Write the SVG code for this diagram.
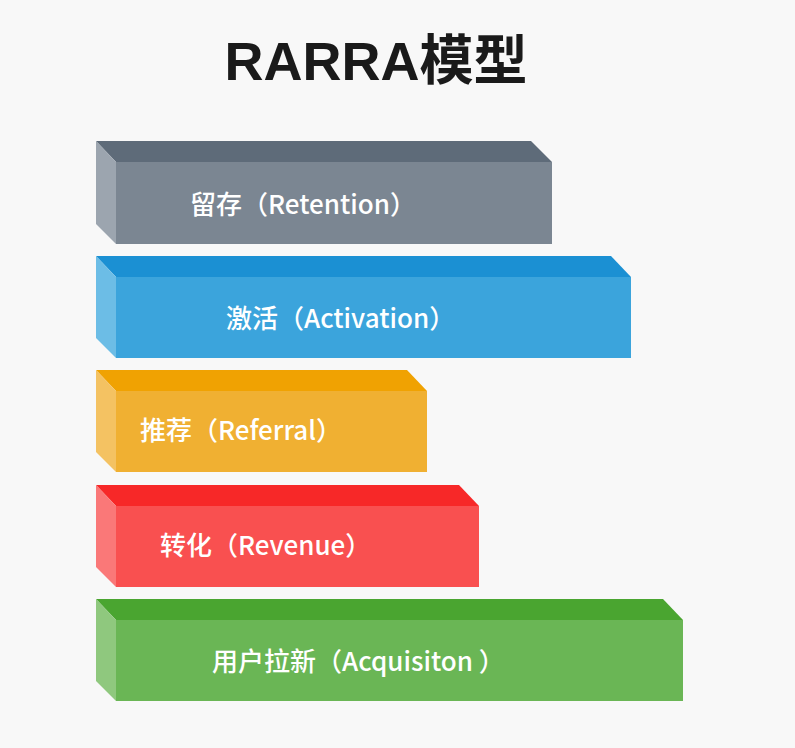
<svg xmlns="http://www.w3.org/2000/svg" width="795" height="748" viewBox="0 0 795 748">
<style>
.t{font-family:"Noto Sans CJK SC","Liberation Sans",sans-serif;font-size:26px;fill:#fff;font-weight:500}
.h{font-family:"Liberation Sans","Noto Sans CJK SC",sans-serif;font-size:54px;font-weight:bold;fill:#1a1a1a}
</style>
<rect width="795" height="748" fill="#f8f8f8"/>
<text class="h" x="376" y="80" text-anchor="middle">RARRA模型</text>
<g id="retention">
<polygon points="96,141 531,141 552,162 116,162" fill="#5e6b79"/>
<polygon points="96,141 116,162 116,244 96,224" fill="#9ca5af"/>
<rect x="116" y="162" width="436" height="82" fill="#7b8692"/>
<text class="t" x="190" y="214">留存（Retention）</text>
</g>
<g id="activation">
<polygon points="96,256 611,256 631,277 116,277" fill="#1b90d3"/>
<polygon points="96,256 116,277 116,358 96,338" fill="#6cbde6"/>
<rect x="116" y="277" width="515" height="81" fill="#3ba4dc"/>
<text class="t" x="226" y="328">激活（Activation）</text>
</g>
<g id="referral">
<polygon points="96,370 407,370 427,391 116,391" fill="#f0a202"/>
<polygon points="96,370 116,391 116,472 96,452" fill="#f4c262"/>
<rect x="116" y="391" width="311" height="81" fill="#f0b032"/>
<text class="t" x="140" y="440">推荐（Referral）</text>
</g>
<g id="revenue">
<polygon points="96,485 459,485 479,506 116,506" fill="#f72828"/>
<polygon points="96,485 116,506 116,587 96,567" fill="#fa7878"/>
<rect x="116" y="506" width="363" height="81" fill="#f95050"/>
<text class="t" x="160" y="555">转化（Revenue）</text>
</g>
<g id="acquisition">
<polygon points="96,599 663,599 683,620 116,620" fill="#4aa530"/>
<polygon points="96,599 116,620 116,701 96,681" fill="#8fc87e"/>
<rect x="116" y="620" width="567" height="81" fill="#6ab655"/>
<text class="t" x="212" y="671">用户拉新（Acquisiton ）</text>
</g>
<g id="connectors"/>
</svg>
